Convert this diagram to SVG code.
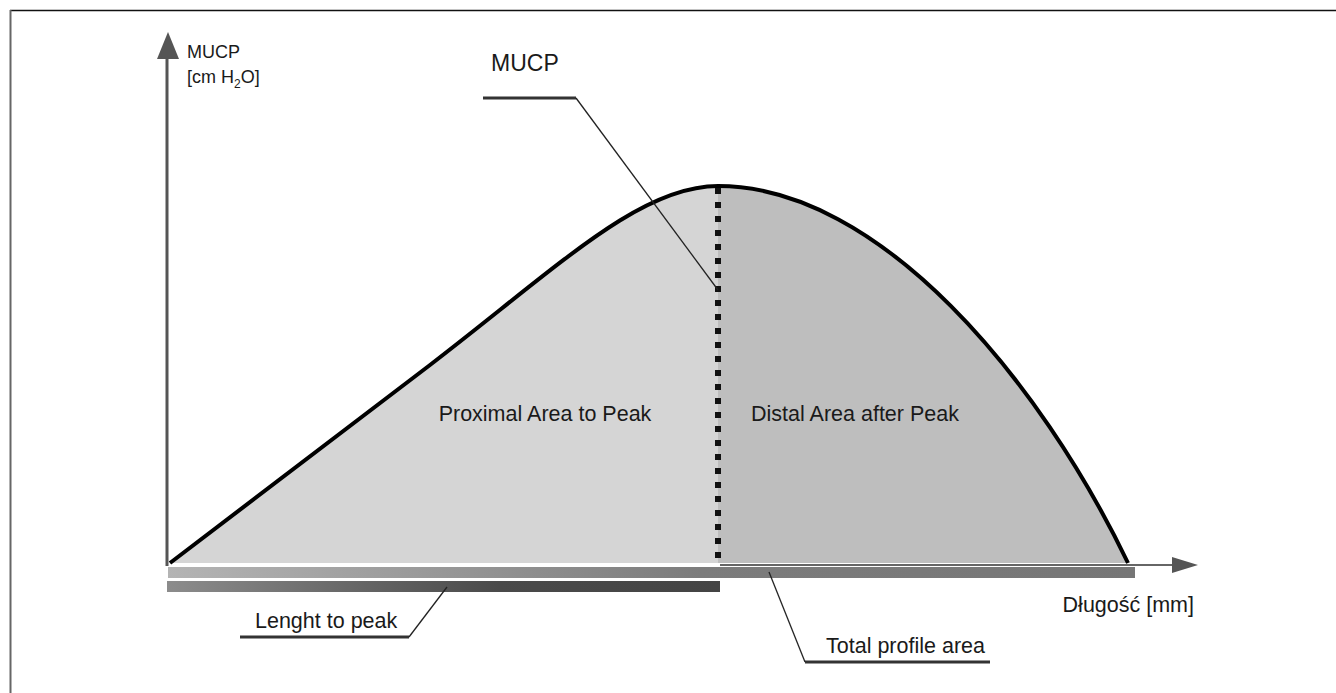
<svg xmlns="http://www.w3.org/2000/svg" width="1336" height="693" viewBox="0 0 1336 693">
<defs>
<style>
text{font-family:"Liberation Sans",Arial,sans-serif;fill:#1a1a1a}
.lbl{font-size:21.5px}
.lead{fill:none;stroke:#222;stroke-width:1.3}
.shelf{fill:none;stroke:#333;stroke-width:3}
</style>
<linearGradient id="g1" x1="0" y1="0" x2="1" y2="0">
<stop offset="0" stop-color="#b4b4b4"/>
<stop offset="0.55" stop-color="#7c7c7c"/>
<stop offset="1" stop-color="#767676"/>
</linearGradient>
<linearGradient id="g2" x1="0" y1="0" x2="1" y2="0">
<stop offset="0" stop-color="#8c8c8c"/>
<stop offset="0.6" stop-color="#4a4a4a"/>
<stop offset="1" stop-color="#444"/>
</linearGradient>
</defs>
<rect width="1336" height="693" fill="#fff"/>
<g id="frame">
<line x1="10" y1="10.5" x2="1336" y2="10.5" stroke="#111" stroke-width="1.5"/>
<line x1="10.5" y1="10" x2="10.5" y2="693" stroke="#666" stroke-width="2"/>
</g>
<g id="areas">
<path id="proximal" d="M170,563 L430,365 C560,265 640,186 718,186 L718,563 Z" fill="#d5d5d5"/>
<path id="distal" d="M718,186 C880,186 1040,380 1128,563 L718,563 Z" fill="#bebebe"/>
</g>
<g id="bars">
<rect x="168" y="567" width="967" height="11" fill="url(#g1)"/>
<rect x="167" y="581" width="553" height="11" fill="url(#g2)"/>
</g>
<g id="axes">
<line x1="167" y1="566" x2="167" y2="50" stroke="#555" stroke-width="3"/>
<polygon points="168,32 157,59 179,59" fill="#555"/>
<line x1="720" y1="565" x2="1178" y2="565" stroke="#666" stroke-width="2"/>
<polygon points="1198,565 1172,557 1172,573" fill="#555"/>
</g>
<g id="curve">
<path d="M170,563 L430,365 C560,265 640,186 718,186 C880,186 1040,380 1128,563" fill="none" stroke="#000" stroke-width="4"/>
<line x1="718" y1="188" x2="718" y2="565" stroke="#111" stroke-width="6" stroke-dasharray="6,8"/>
</g>
<g id="connectors">
<polyline class="shelf" points="483,98 576,98"/>
<line class="lead" x1="576" y1="98" x2="718" y2="290"/>
<polyline class="shelf" points="240,637 409,637"/>
<line class="lead" x1="409" y1="637" x2="447" y2="587"/>
<polyline class="shelf" points="805,662 990,662"/>
<line class="lead" x1="805" y1="662" x2="769" y2="572"/>
</g>
<g id="ylabel">
<text x="187" y="58" font-size="18">MUCP</text>
<text x="187" y="83" font-size="18">[cm H<tspan font-size="12" dy="5">2</tspan><tspan dy="-5">O]</tspan></text>
</g>
<g id="mucp-label"><text x="491" y="71" font-size="23">MUCP</text></g>
<g id="proximal-label"><text class="lbl" x="545" y="421" text-anchor="middle">Proximal Area to Peak</text></g>
<g id="distal-label"><text class="lbl" x="855" y="421" text-anchor="middle">Distal Area after Peak</text></g>
<g id="x-label"><text class="lbl" x="1194" y="612" text-anchor="end">Długość [mm]</text></g>
<g id="length-label"><text class="lbl" x="255" y="628">Lenght to peak</text></g>
<g id="total-label"><text class="lbl" x="826" y="653">Total profile area</text></g>
</svg>
